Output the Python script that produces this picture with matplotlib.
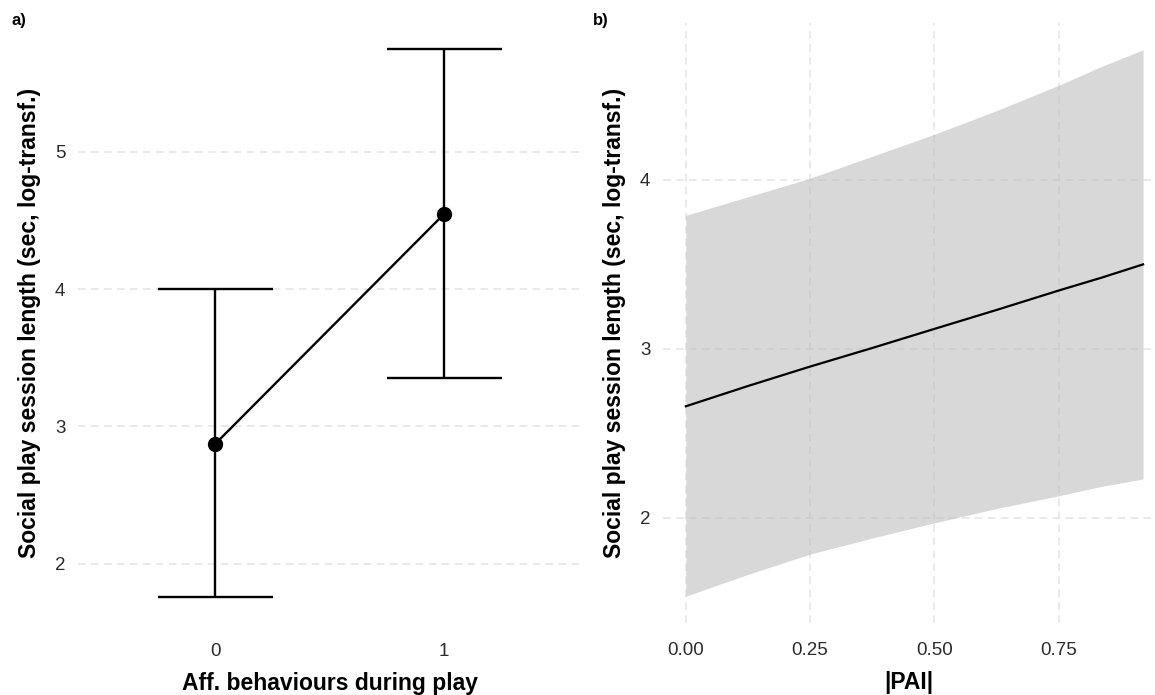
"""
Two-panel figure: social play session length vs affiliative behaviours (a)
and vs |PAI| (b), ggplot-minimal look.
"""
import matplotlib
matplotlib.use("Agg")
import matplotlib.pyplot as plt

plt.rcParams['font.family'] = ['Liberation Sans', 'DejaVu Sans']

# panel a: model estimates per level
aff_levels = [0, 1]
aff_labels = ['0', '1']
aff_mean = [2.874, 4.548]
aff_lower = [1.758, 3.354]
aff_upper = [4.00, 5.744]

# panel b: fitted line with confidence ribbon
pai = [0.0, 0.125, 0.25, 0.375, 0.5, 0.625, 0.75, 0.835, 0.92]
pai_fit = [2.66, 2.78, 2.895, 3.005, 3.118, 3.23, 3.345, 3.42, 3.50]
pai_lower = [1.536, 1.665, 1.785, 1.88, 1.97, 2.055, 2.13, 2.185, 2.23]
pai_upper = [3.79, 3.90, 4.01, 4.14, 4.27, 4.41, 4.56, 4.67, 4.77]

YLAB = 'Social play session length (sec, log-transf.)'
GRID = dict(color='#E3E3E3', linewidth=1.1, dashes=(5, 3.5))
TICK_COLOR = '#2b2b2b'
TITLE_SIZE = 16.5


def expand(lo, hi, frac=0.05):
    pad = (hi - lo) * frac
    return lo - pad, hi + pad


def style_axes(ax):
    for s in ax.spines.values():
        s.set_visible(False)
    ax.tick_params(length=0, labelsize=13.5, colors=TICK_COLOR)
    ax.tick_params(axis='x', pad=13)
    ax.tick_params(axis='y', pad=9)
    ax.set_axisbelow(True)


fig = plt.figure(figsize=(11.55, 6.95), dpi=100)

# ---- panel a ----
ax1 = fig.add_axes([0.0675, 0.1014, 0.4361, 0.8669])
style_axes(ax1)
for y in [2, 3, 4, 5]:
    ax1.axhline(y, zorder=0, **GRID)
cap = 0.25
ax1.vlines(aff_levels, aff_lower, aff_upper, color='black', linewidth=1.7)
ax1.hlines(aff_lower, [x - cap for x in aff_levels], [x + cap for x in aff_levels],
           color='black', linewidth=1.7)
ax1.hlines(aff_upper, [x - cap for x in aff_levels], [x + cap for x in aff_levels],
           color='black', linewidth=1.7)
ax1.plot(aff_levels, aff_mean, color='black', linewidth=1.7, marker='o',
         markersize=10, zorder=3)
ax1.set_xlim(-0.6, 1.6)
ax1.set_ylim(*expand(min(aff_lower), max(aff_upper)))
ax1.set_xticks(aff_levels)
ax1.set_xticklabels(aff_labels)
ax1.set_yticks([2, 3, 4, 5])
ax1.set_xlabel('Aff. behaviours during play', fontsize=TITLE_SIZE, fontweight='bold', labelpad=9)
ax1.set_ylabel(YLAB, fontsize=TITLE_SIZE, fontweight='bold', labelpad=10)

# ---- panel b ----
ax2 = fig.add_axes([0.574, 0.1029, 0.426, 0.8647])
style_axes(ax2)
for y in [2, 3, 4]:
    ax2.axhline(y, zorder=0, **GRID)
for x in [0.0, 0.25, 0.5, 0.75]:
    ax2.axvline(x, zorder=0, **GRID)
ax2.fill_between(pai, pai_lower, pai_upper, color='#BEBEBE', alpha=0.6,
                 linewidth=0, zorder=1)
ax2.plot(pai, pai_fit, color='black', linewidth=1.6, zorder=2)
x_lo, _ = expand(min(pai), max(pai))
ax2.set_xlim(x_lo, x_lo + 0.99)
ax2.set_ylim(*expand(min(pai_lower), max(pai_upper)))
ax2.set_xticks([0.0, 0.25, 0.5, 0.75])
ax2.set_xticklabels(['0.00', '0.25', '0.50', '0.75'])
ax2.set_yticks([2, 3, 4])
ax2.set_xlabel('|PAI|', fontsize=TITLE_SIZE, fontweight='bold', labelpad=9)
ax2.set_ylabel(YLAB, fontsize=TITLE_SIZE, fontweight='bold', labelpad=10)

fig.text(0.010, 0.982, 'a)', fontsize=12, fontweight='bold', va='top')
fig.text(0.513, 0.982, 'b)', fontsize=12, fontweight='bold', va='top')

fig.savefig('out.png', dpi=100, facecolor='white')
